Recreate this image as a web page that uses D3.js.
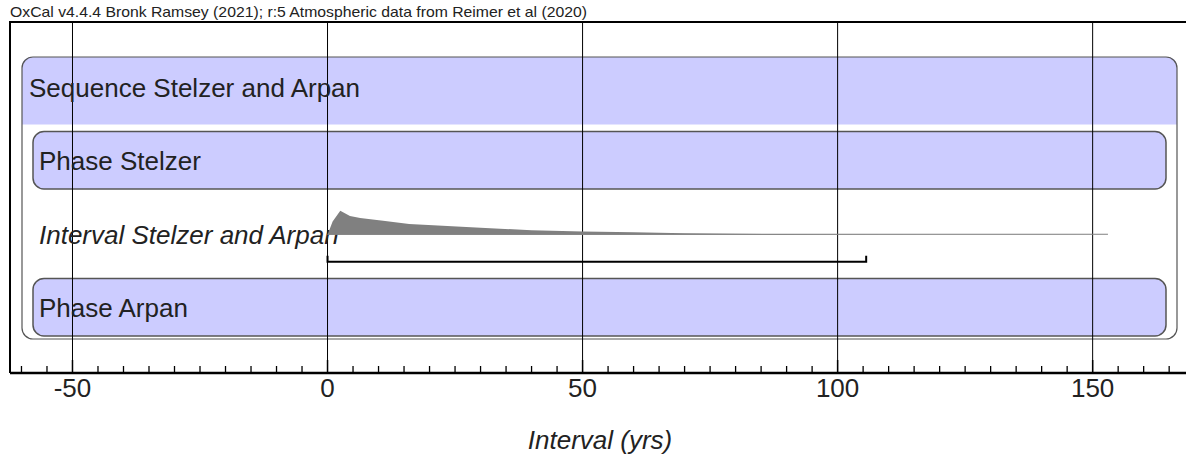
<!DOCTYPE html>
<html>
<head>
<meta charset="utf-8">
<script src="https://cdn.jsdelivr.net/npm/d3@7/dist/d3.min.js"></script>
<style>
  html, body { margin: 0; padding: 0; background: #fff; }
  svg { display: block; font-family: "Liberation Sans", Arial, sans-serif; }
</style>
</head>
<body>
<svg id="chart" width="1186" height="457"></svg>
<script>
// Model rows, top to bottom
const rows = ["Sequence Stelzer and Arpan", "Phase Stelzer", "Interval Stelzer and Arpan", "Phase Arpan"];
const rowKinds = ["sequence", "phase", "interval", "phase"];

// Posterior distribution of the interval (years, relative probability)
const intervalYears = [0, 1, 2.5, 4.4, 6.4, 10.9, 16, 20.7, 30, 40, 50, 60, 70, 80, 90, 100, 120, 140, 153];
const intervalProb  = [0, 0.55, 1, 0.78, 0.70, 0.58, 0.45, 0.40, 0.29, 0.19, 0.14, 0.10, 0.06, 0.04, 0.03, 0.025, 0.015, 0.01, 0];

// 95.4% highest posterior density range
const hpdRange = [0, 105.6];

// Axis
const axisDomain = [-62.25, 168.3];
const majorTicks = [-50, 0, 50, 100, 150];
const tickLabels = ["-50", "0", "50", "100", "150"];
const headerText = "OxCal v4.4.4 Bronk Ramsey (2021); r:5 Atmospheric data from Reimer et al (2020)";
const axisTitle = "Interval (yrs)";

const W = 1186, H = 457;
const plot = { left: 10, right: 1186, top: 22, bottom: 373 };

const svg = d3.select("#chart");
const x = d3.scaleLinear().domain(axisDomain).range([plot.left, plot.right]);
const y = d3.scaleBand().domain(rows).range([51, 345]);

const lav = "#ccccff", edge = "#555";
const labelSize = 26;

// Sequence: outline around all children, shaded header band
const seqTop = y(rows[0]) + 6, seqBottom = y(rows[3]) + y.bandwidth() - 6;
const seqL = 22, seqR = 1177, r = 11;
svg.append("path")
  .attr("d", `M${seqL},${y(rows[0]) + y.bandwidth()} V${seqTop + r} Q${seqL},${seqTop} ${seqL + r},${seqTop} H${seqR - r} Q${seqR},${seqTop} ${seqR},${seqTop + r} V${y(rows[0]) + y.bandwidth()} Z`)
  .attr("fill", lav);
svg.append("rect")
  .attr("x", seqL).attr("y", seqTop)
  .attr("width", seqR - seqL).attr("height", seqBottom - seqTop)
  .attr("rx", r).attr("ry", r)
  .attr("fill", "none").attr("stroke", edge).attr("stroke-width", 1.2);

// Phase boxes
const phL = 33, phR = 1166;
rows.forEach((name, i) => {
  if (rowKinds[i] !== "phase") return;
  svg.append("rect")
    .attr("x", phL).attr("y", y(name) + 7)
    .attr("width", phR - phL).attr("height", y.bandwidth() - 16)
    .attr("rx", 11).attr("ry", 11)
    .attr("fill", lav).attr("stroke", edge).attr("stroke-width", 1.5);
});

// Vertical grid lines at major ticks
svg.append("g").selectAll("line").data(majorTicks).join("line")
  .attr("x1", d => x(d)).attr("x2", d => x(d))
  .attr("y1", plot.top).attr("y2", plot.bottom)
  .attr("stroke", "#000").attr("stroke-width", 1);

// Row labels
rows.forEach((name, i) => {
  const k = rowKinds[i];
  svg.append("text")
    .attr("x", k === "sequence" ? 29 : 39)
    .attr("y", y(name) + y.bandwidth() / 2)
    .attr("dy", "0.35em")
    .attr("font-size", labelSize)
    .attr("font-style", k === "interval" ? "italic" : "normal")
    .attr("fill", "#222")
    .text(name);
});

// Interval distribution
const base = y(rows[2]) + y.bandwidth() / 2;
const pScale = d3.scaleLinear().domain([0, 1]).range([base, base - 24]);
const pts = intervalYears.map((v, i) => [v, intervalProb[i]]);
svg.append("path")
  .datum(pts)
  .attr("d", d3.area().x(d => x(d[0])).y0(base).y1(d => pScale(d[1])))
  .attr("fill", "#808080");
svg.append("line")
  .attr("x1", x(intervalYears[0])).attr("x2", x(intervalYears[intervalYears.length - 1]))
  .attr("y1", base - 0.5).attr("y2", base - 0.5)
  .attr("stroke", "#808080").attr("stroke-width", 1);

// HPD range bracket
const by = base + 27;
svg.append("path")
  .attr("d", `M${x(hpdRange[0])},${by - 6} V${by} H${x(hpdRange[1])} V${by - 6}`)
  .attr("fill", "none").attr("stroke", "#000").attr("stroke-width", 2);

// Frame
svg.append("path")
  .attr("d", `M${plot.left},${plot.bottom} V${plot.top} H${plot.right}`)
  .attr("fill", "none").attr("stroke", "#000").attr("stroke-width", 2);

// Bottom axis with minor ticks every 5 years
const axisG = svg.append("g").attr("transform", `translate(0,${plot.bottom})`);
axisG.append("line").attr("x1", plot.left).attr("x2", plot.right)
  .attr("stroke", "#000").attr("stroke-width", 2.5);
const minor = d3.range(-60, 170, 5).filter(v => !majorTicks.includes(v));
axisG.selectAll("line.minor").data(minor).join("line").attr("class", "minor")
  .attr("x1", d => x(d)).attr("x2", d => x(d)).attr("y1", 0).attr("y2", -7)
  .attr("stroke", "#000").attr("stroke-width", 1.3);
axisG.selectAll("line.major").data(majorTicks).join("line").attr("class", "major")
  .attr("x1", d => x(d)).attr("x2", d => x(d)).attr("y1", 0).attr("y2", -13)
  .attr("stroke", "#000").attr("stroke-width", 1.5);
axisG.selectAll("text").data(majorTicks).join("text")
  .attr("x", d => x(d)).attr("y", 24)
  .attr("text-anchor", "middle").attr("font-size", labelSize).attr("fill", "#222")
  .text((d, i) => tickLabels[i]);

// Axis title
svg.append("text").attr("x", 600).attr("y", 449)
  .attr("text-anchor", "middle").attr("font-size", labelSize).attr("font-style", "italic").attr("fill", "#222")
  .text(axisTitle);

// Header
svg.append("text").attr("x", 10).attr("y", 17)
  .attr("font-size", 14.5).attr("fill", "#222")
  .attr("textLength", 577).attr("lengthAdjust", "spacingAndGlyphs")
  .text(headerText);
</script>
</body>
</html>
